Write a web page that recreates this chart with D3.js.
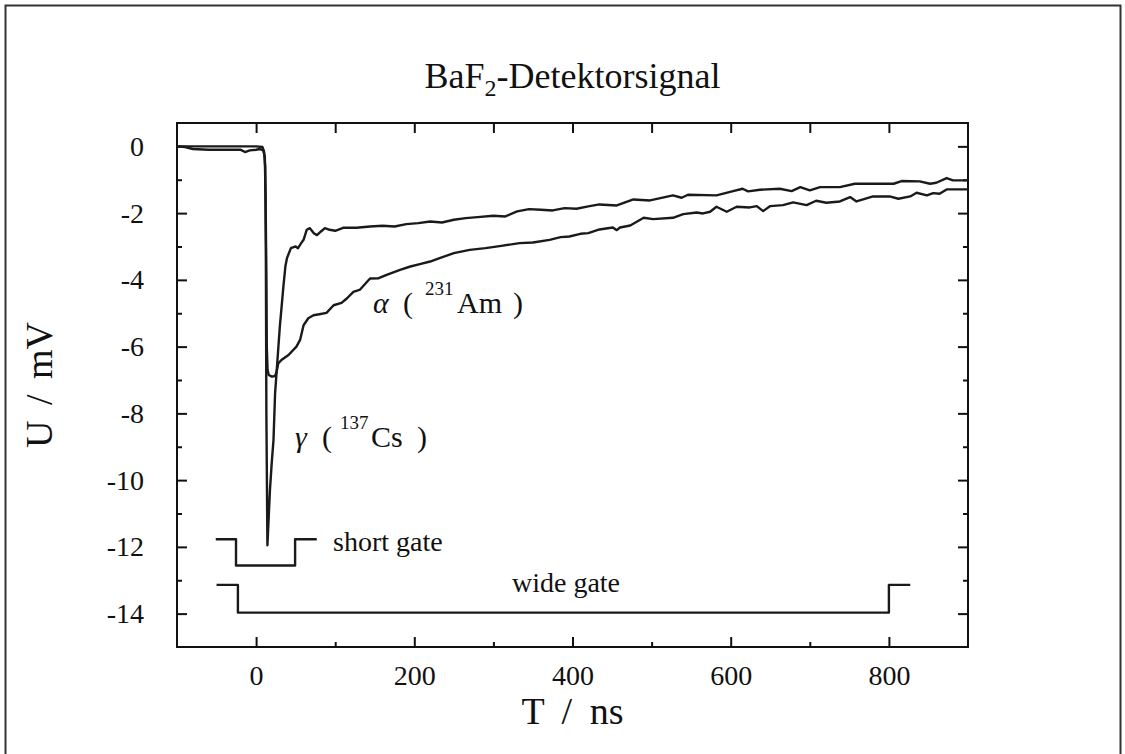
<!DOCTYPE html>
<html>
<head>
  <meta charset="utf-8">
  <title>BaF2-Detektorsignal</title>
  <script src="https://d3js.org/d3.v7.min.js"></script>
  <style>
    body { margin: 0; background: #fff; }
    text { font-family: "Liberation Serif", "Times New Roman", serif; fill: #111; }
  </style>
</head>
<body>
<script>
// gamma (137Cs) signal: time in ns, voltage in mV
var gammaT = [-100, -60, -20, 0, 8, 10, 11.5, 12.3, 13, 14.3, 17.5, 20, 22, 24, 27, 30, 34.5, 37, 39, 44, 50, 53, 57, 60, 64, 68, 73, 77, 82, 87, 93, 100, 110, 127, 144,
  160, 175, 190, 205, 220, 235, 250, 265, 280, 300, 315, 330, 345, 360, 375, 390, 405, 420, 434, 456, 477, 498, 527, 538, 546, 582, 603, 615, 622, 637, 662, 677, 688, 700, 713, 738, 757, 806, 816, 839, 852, 860, 873, 881, 900];
var gammaU = [0, 0, 0, 0, -0.02, -0.15, -0.6, -3, -8, -11.95, -10.3, -9.4, -8.8, -7.4, -6.4, -5.4, -4.2, -3.6, -3.35, -3.05, -3.0, -3.05, -2.9, -2.8, -2.5, -2.45, -2.6, -2.66, -2.55, -2.45, -2.5, -2.53, -2.44, -2.44, -2.4,
  -2.38, -2.4, -2.33, -2.3, -2.25, -2.28, -2.2, -2.15, -2.12, -2.08, -2.1, -1.95, -1.88, -1.9, -1.92, -1.85, -1.87, -1.8, -1.74, -1.77, -1.59, -1.62, -1.47, -1.54, -1.45, -1.47, -1.34, -1.27, -1.35, -1.3, -1.27, -1.34, -1.22, -1.32, -1.22, -1.22, -1.12, -1.12, -1.04, -1.05, -1.12, -1.09, -0.95, -1.02, -1.02];

// alpha (231Am) signal
var alphaT = [-100, -90, -80, -60, -40, -20, -14, -8, 0, 5, 9, 11, 12, 13, 13.5, 14.5, 16, 20, 24, 26, 28, 32, 41, 51, 55.6, 60, 66, 72.5, 80, 89, 98, 108, 115, 123, 131.5, 144,
  155, 165, 182, 195, 207, 220, 232, 250, 270, 290, 310, 333, 350, 371, 385, 396, 410, 420, 434, 451, 456, 460, 473, 490, 502, 527, 540, 557, 565, 574, 582, 595, 607.5, 624, 633, 641, 650, 666, 679, 696, 708, 721, 738, 751, 759, 780, 801, 812, 827, 835, 848, 856, 864, 873, 900];
var alphaU = [0, -0.02, -0.08, -0.1, -0.1, -0.1, -0.17, -0.12, -0.1, -0.08, -0.12, -0.3, -1.5, -4, -6, -6.7, -6.85, -6.9, -6.88, -6.75, -6.5, -6.4, -6.25, -6.0, -5.8, -5.36, -5.15, -5.06, -5.03, -4.99, -4.76, -4.69, -4.55, -4.36, -4.29, -3.96,
  -3.95, -3.85, -3.7, -3.6, -3.53, -3.45, -3.35, -3.2, -3.1, -3.05, -2.98, -2.9, -2.88, -2.8, -2.72, -2.7, -2.62, -2.6, -2.49, -2.43, -2.51, -2.43, -2.37, -2.14, -2.18, -2.14, -2.03, -1.98, -2.01, -1.96, -1.81, -1.96, -1.81, -1.83, -1.79, -1.94, -1.79, -1.76, -1.68, -1.76, -1.63, -1.69, -1.65, -1.52, -1.65, -1.5, -1.5, -1.57, -1.5, -1.39, -1.47, -1.4, -1.42, -1.29, -1.29];

// gate windows
var shortGateT = [-51, -25.4, -25.4, 49.3, 49.3, 76.7];
var shortGateU = [-11.77, -11.77, -12.56, -12.56, -11.77, -11.77];
var wideGateT = [-50, -23, -23, 800, 800, 827];
var wideGateU = [-13.14, -13.14, -13.97, -13.97, -13.14, -13.14];

var xMajor = [0, 200, 400, 600, 800];
var xMinor = [100, 300, 500, 700];
var xTop = [0, 100, 200, 300, 400, 500, 600, 700, 800];
var yMajor = [0, -2, -4, -6, -8, -10, -12, -14];
var yMinor = [-1, -3, -5, -7, -9, -11, -13];

var W = 1125, H = 754;
var pL = 177, pR = 968, pT = 123, pB = 647;

var svg = d3.select("body").append("svg")
  .attr("width", W)
  .attr("height", H);

// outer frame
svg.append("rect")
  .attr("x", 5.5).attr("y", 5.5)
  .attr("width", 1115).attr("height", 760)
  .attr("fill", "none")
  .attr("stroke", "#333")
  .attr("stroke-width", 2);

var x = d3.scaleLinear().domain([-100, 900]).range([pL, pR]);
var y = d3.scaleLinear().domain([-15, 0.7]).range([pB, pT]);

function fmt(d) { return String(d); }

function styleAxis(g) {
  g.select(".domain").remove();
  g.selectAll(".tick line").attr("stroke", "#111").attr("stroke-width", 2);
  g.selectAll(".tick text")
    .style("font-family", "'Liberation Serif', serif")
    .style("font-size", "28px")
    .attr("fill", "#111");
}

// bottom axis
svg.append("g").attr("transform", "translate(0," + pB + ")")
  .call(d3.axisBottom(x).tickValues(xMajor).tickFormat(fmt).tickSize(-10).tickSizeOuter(0).tickPadding(18))
  .call(styleAxis);
svg.append("g").attr("transform", "translate(0," + pB + ")")
  .call(d3.axisBottom(x).tickValues(xMinor).tickFormat("").tickSize(-5).tickSizeOuter(0))
  .call(styleAxis);
// top axis
svg.append("g").attr("transform", "translate(0," + pT + ")")
  .call(d3.axisTop(x).tickValues(xTop).tickFormat("").tickSize(-10).tickSizeOuter(0))
  .call(styleAxis);
// left axis
svg.append("g").attr("transform", "translate(" + pL + ",0)")
  .call(d3.axisLeft(y).tickValues(yMajor).tickFormat(fmt).tickSize(-10).tickSizeOuter(0).tickPadding(33))
  .call(styleAxis);
svg.append("g").attr("transform", "translate(" + pL + ",0)")
  .call(d3.axisLeft(y).tickValues(yMinor).tickFormat("").tickSize(-5).tickSizeOuter(0))
  .call(styleAxis);
// right axis
svg.append("g").attr("transform", "translate(" + pR + ",0)")
  .call(d3.axisRight(y).tickValues(yMajor).tickFormat("").tickSize(-10).tickSizeOuter(0))
  .call(styleAxis);
svg.append("g").attr("transform", "translate(" + pR + ",0)")
  .call(d3.axisRight(y).tickValues(yMinor).tickFormat("").tickSize(-5).tickSizeOuter(0))
  .call(styleAxis);

// plot box
svg.append("rect")
  .attr("x", pL).attr("y", pT)
  .attr("width", pR - pL).attr("height", pB - pT)
  .attr("fill", "none")
  .attr("stroke", "#111")
  .attr("stroke-width", 2);

var line = d3.line()
  .x(function(d) { return x(d[0]); })
  .y(function(d) { return y(d[1]); });

function draw(ts, us) {
  svg.append("path")
    .attr("d", line(d3.zip(ts, us)))
    .attr("fill", "none")
    .attr("stroke", "#1a1a1a")
    .attr("stroke-width", 2.4)
    .attr("stroke-linejoin", "round");
}
draw(alphaT, alphaU);
draw(gammaT, gammaU);
draw(shortGateT, shortGateU);
draw(wideGateT, wideGateU);

// title
var title = svg.append("text")
  .attr("x", (pL + pR) / 2).attr("y", 88)
  .attr("text-anchor", "middle")
  .style("font-size", "36px");
title.append("tspan").text("BaF");
title.append("tspan").attr("dy", 8).style("font-size", "24px").text("2");
title.append("tspan").attr("dy", -8).text("-Detektorsignal");

// axis titles
svg.append("text")
  .attr("x", (pL + pR) / 2).attr("y", 724)
  .attr("text-anchor", "middle")
  .style("font-size", "38px")
  .style("word-spacing", "8px")
  .text("T / ns");
svg.append("text")
  .attr("transform", "translate(52," + (pT + pB) / 2 + ") rotate(-90)")
  .attr("text-anchor", "middle")
  .style("font-size", "38px")
  .style("word-spacing", "6px")
  .text("U / mV");

// curve annotations; offs = x offsets of "(", mass, element, ")"
function label(xp, yp, sym, mass, el, offs) {
  var g = svg.append("g").attr("transform", "translate(" + xp + "," + yp + ")");
  g.append("text").style("font-size", "30px").style("font-style", "italic").text(sym);
  g.append("text").attr("x", offs[0]).style("font-size", "30px").text("(");
  g.append("text").attr("x", offs[1]).attr("y", -18).style("font-size", "19px").text(mass);
  g.append("text").attr("x", offs[2]).style("font-size", "30px").text(el);
  g.append("text").attr("x", offs[3]).style("font-size", "30px").text(")");
}
label(373, 313, "\u03b1", "231", "Am", [30, 52, 84, 140]);
label(295, 447, "\u03b3", "137", "Cs", [27, 45, 76, 122]);

// gate labels
svg.append("text").attr("x", 333).attr("y", 551)
  .style("font-size", "28px").text("short gate");
svg.append("text").attr("x", 566).attr("y", 592)
  .attr("text-anchor", "middle")
  .style("font-size", "28px").text("wide gate");
</script>
</body>
</html>
